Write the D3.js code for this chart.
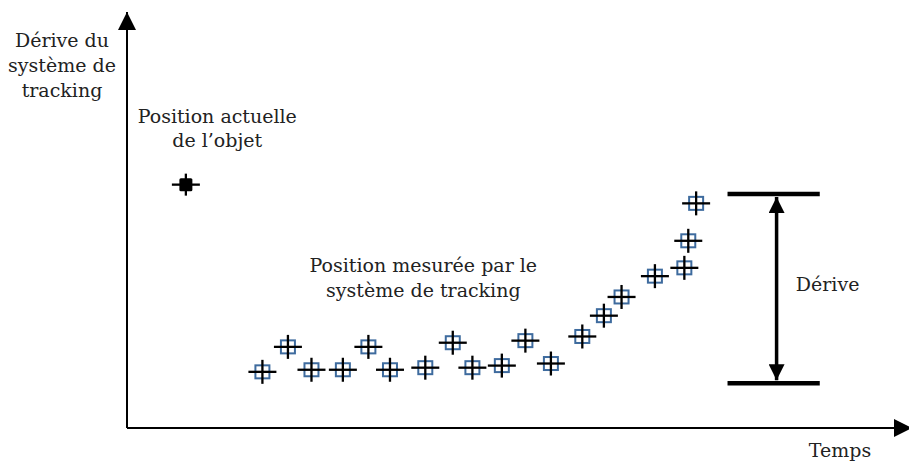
<!DOCTYPE html>
<html>
<head>
<meta charset="utf-8">
<script src="https://cdn.jsdelivr.net/npm/d3@7"></script>
<style>
  body { margin: 0; background: #fff; }
  text { font-family: "DejaVu Serif", "Liberation Serif", serif; font-size: 19px; fill: #222; }
</style>
</head>
<body>
<svg id="chart" width="909" height="462"></svg>
<script>
// time / drift values (arbitrary units)
const measuredTime  = [6.9, 8.2, 9.4, 11.0, 12.3, 13.4, 15.2, 16.6, 17.6, 19.1, 20.3, 21.6, 23.2, 24.3, 25.2, 26.9, 28.4, 28.6, 29.0];
const measuredDrift = [2.7, 3.9, 2.8, 2.8, 3.9, 2.8, 2.9, 4.1, 2.9, 3.0, 4.2, 3.1, 4.4, 5.4, 6.3, 7.3, 7.7, 9.0, 10.8];
const actualPos = {t: 3.0, d: 11.7};
const driftTop = 11.25, driftBottom = 2.15;
const driftX = [30.6, 35.3], driftArrowT = 33.1;

const svg = d3.select("#chart");
const margin = {left: 127, bottom: 428, top: 12, right: 912};

const x = d3.scaleLinear().domain([0, 40]).range([margin.left, margin.right]);
const y = d3.scaleLinear().domain([0, 20]).range([margin.bottom, margin.top]);

const defs = svg.append("defs");
function arrowMarker(id, w, h){
    defs.append("marker")
        .attr("id", id)
        .attr("viewBox", "0 0 10 10")
        .attr("refX", 10).attr("refY", 5)
        .attr("markerUnits", "userSpaceOnUse")
        .attr("markerWidth", w).attr("markerHeight", h)
        .attr("orient", "auto-start-reverse")
      .append("path")
        .attr("d", "M0,0 L10,5 L0,10 Z")
        .attr("fill", "#000");
}
arrowMarker("axisArrow", 18, 18);
arrowMarker("driftArrow", 18, 16);

// axes
svg.append("line")
    .attr("x1", x(0)).attr("y1", y(0))
    .attr("x2", x(0)).attr("y2", y(20))
    .attr("stroke", "#000").attr("stroke-width", 2)
    .attr("marker-end", "url(#axisArrow)");
svg.append("line")
    .attr("x1", x(0)).attr("y1", y(0))
    .attr("x2", x(40)).attr("y2", y(0))
    .attr("stroke", "#000").attr("stroke-width", 2)
    .attr("marker-end", "url(#axisArrow)");

// measured points
const pts = measuredTime.map((t, i) => ({t: t, d: measuredDrift[i]}));
const g = svg.append("g");
const m = g.selectAll("g.pt").data(pts).enter().append("g")
    .attr("class", "pt")
    .attr("transform", d => `translate(${x(d.t)},${y(d.d)})`);
m.append("rect")
    .attr("x", -7).attr("y", -6.5).attr("width", 14).attr("height", 13)
    .attr("fill", "none").attr("stroke", "#3e6b9e").attr("stroke-width", 2);
m.append("line").attr("x1", -14).attr("x2", 14).attr("y1", 0).attr("y2", 0)
    .attr("stroke", "#000").attr("stroke-width", 2.3);
m.append("line").attr("x1", 0).attr("x2", 0).attr("y1", -12).attr("y2", 12)
    .attr("stroke", "#000").attr("stroke-width", 2.3);

// actual position of object
const a = svg.append("g").attr("transform", `translate(${x(actualPos.t)},${y(actualPos.d)})`);
a.append("rect").attr("x", -6.5).attr("y", -6.5).attr("width", 13).attr("height", 13)
    .attr("rx", 1.5).attr("fill", "#000");
a.append("line").attr("x1", -14).attr("x2", 14).attr("stroke", "#000").attr("stroke-width", 2.3);
a.append("line").attr("y1", -11).attr("y2", 11).attr("stroke", "#000").attr("stroke-width", 2.3);

// drift bracket
[driftTop, driftBottom].forEach(v => {
    svg.append("line")
        .attr("x1", x(driftX[0])).attr("x2", x(driftX[1]))
        .attr("y1", y(v)).attr("y2", y(v))
        .attr("stroke", "#000").attr("stroke-width", 4.5);
});
svg.append("line")
    .attr("x1", x(driftArrowT)).attr("x2", x(driftArrowT))
    .attr("y1", y(driftTop) + 3).attr("y2", y(driftBottom) - 3)
    .attr("stroke", "#000").attr("stroke-width", 3.5)
    .attr("marker-start", "url(#driftArrow)")
    .attr("marker-end", "url(#driftArrow)");

// labels
function label(lines, cx, by, step){
    const t = svg.append("text").attr("text-anchor", "middle");
    lines.forEach((s, i) => {
        t.append("tspan").attr("x", cx).attr("y", by + i * step).text(s);
    });
}
label(["Dérive du", "système de", "tracking"], 62, 47, 25);
label(["Position actuelle", "de l\u2019objet"], x(4.6), y(14.66), 24);
label(["Position mesurée par le", "système de tracking"], x(15.1), y(7.5), 24.7);
label(["Dérive"], x(35.7), y(6.6), 0);
label(["Temps"], 840, 457, 0);
</script>
</body>
</html>
